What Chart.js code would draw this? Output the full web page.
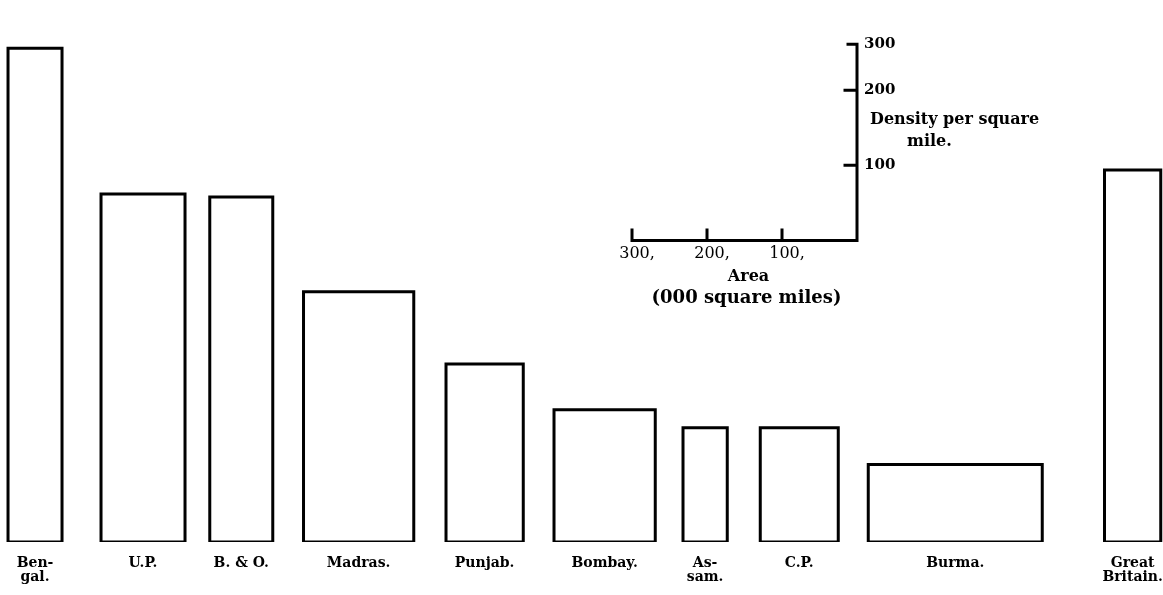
<!DOCTYPE html>
<html>
<head>
<meta charset="utf-8">
<script src="https://cdn.jsdelivr.net/npm/chart.js@4.4.1/dist/chart.umd.min.js"></script>
<style>
  html, body { margin: 0; padding: 0; background: #fff; }
  #wrap { width: 1163px; height: 595px; position: relative; }
</style>
</head>
<body>
<div id="wrap"><canvas id="areaChart"></canvas></div>
<script>
// provinces, area in thousand square miles, density per square mile
const provinces = [['Ben-', 'gal.'], 'U.P.', 'B. & O.', 'Madras.', 'Punjab.', 'Bombay.', ['As-', 'sam.'], 'C.P.', 'Burma.', ['Great', 'Britain.']];
const areas = [72, 112, 84, 147, 103, 135, 59, 104, 232, 75];
const densities = [657, 463, 459, 333, 237, 176, 152, 152, 103, 495];

// key scale
const keyAreaTicks = [300, 200, 100];
const keyDensityTicks = [100, 200, 300];

// layout (in area units): space left before each block
const gapBefore = [10.7, 52, 33, 41, 43, 41, 37, 44, 40, 83];
const font = 'DejaVu Serif';

let pos = 0;
const blocks = areas.map((a, i) => {
    const x0 = pos + gapBefore[i];
    pos = x0 + a;
    return { x0: x0, x1: x0 + a, h: densities[i] };
});
const centers = blocks.map(b => (b.x0 + b.x1) / 2);

const datasets = blocks.map(b => ({
    data: [
        { x: b.x0, y: 0 }, { x: b.x0, y: b.h }, { x: b.x1, y: b.h },
        { x: b.x1, y: 0 }, { x: b.x0, y: 0 }
    ],
    showLine: true,
    borderColor: '#000',
    borderWidth: 3,
    borderJoinStyle: 'miter',
    pointRadius: 0,
    tension: 0,
    fill: false
}));

// small scale key drawn with the chart's own scales
const keyPlugin = {
    id: 'key',
    afterDatasetsDraw(chart) {
        const ctx = chart.ctx;
        const xs = chart.scales.x, ys = chart.scales.y;
        const ox = 1142.7, oy = 401.3;
        const px = v => xs.getPixelForValue(ox - v);
        const py = v => ys.getPixelForValue(oy + v);
        ctx.save();
        ctx.strokeStyle = '#000';
        ctx.lineWidth = 3;
        ctx.lineCap = 'square';
        ctx.beginPath();
        ctx.moveTo(px(300), py(14));
        ctx.lineTo(px(300), py(0));
        ctx.lineTo(px(0), py(0));
        ctx.lineTo(px(0), py(261));
        ctx.lineTo(px(12), py(261));
        keyAreaTicks.slice(1).forEach(v => {
            ctx.moveTo(px(v), py(0));
            ctx.lineTo(px(v), py(14));
        });
        keyDensityTicks.slice(0, 2).forEach(v => {
            ctx.moveTo(px(0), py(v));
            ctx.lineTo(px(16), py(v));
        });
        ctx.stroke();

        ctx.fillStyle = '#000';
        ctx.textBaseline = 'middle';
        ctx.textAlign = 'left';
        ctx.font = 'bold 15px "' + font + '"';
        keyDensityTicks.forEach(v => {
            const y = v === 300 ? py(261) : py(v);
            ctx.fillText(String(v), px(0) + 7, y);
        });
        ctx.font = 'bold 16px "' + font + '"';
        ctx.fillText('Density per square', px(0) + 13, py(0) - 121);
        ctx.fillText('mile.', px(0) + 50, py(0) - 99);

        ctx.textAlign = 'center';
        ctx.font = '16px "' + font + '"';
        keyAreaTicks.forEach(v => {
            ctx.fillText(v + ',', px(v) + 5, py(0) + 13);
        });
        ctx.font = 'bold 16px "' + font + '"';
        ctx.fillText('Area', px(150) + 4, py(0) + 36);
        ctx.font = 'bold 18px "' + font + '"';
        ctx.fillText('(000 square miles)', px(150) + 2, py(0) + 58);
        ctx.restore();
    }
};

new Chart(document.getElementById('areaChart'), {
    type: 'scatter',
    data: { datasets: datasets },
    options: {
        responsive: true,
        maintainAspectRatio: false,
        animation: false,
        layout: { padding: { left: 0, right: 0, top: 0, bottom: -3 } },
        plugins: {
            legend: { display: false },
            tooltip: { enabled: false }
        },
        scales: {
            x: {
                type: 'linear',
                min: 0,
                max: 1550.7,
                grid: { display: false, drawTicks: false },
                border: { display: false },
                afterBuildTicks(axis) {
                    axis.ticks = centers.map(v => ({ value: v }));
                },
                afterFit(axis) {
                    axis.paddingLeft = 0;
                    axis.paddingRight = 0;
                },
                ticks: {
                    autoSkip: false,
                    maxRotation: 0,
                    padding: 14,
                    color: '#000',
                    font: { family: font, weight: 'bold', size: 14, lineHeight: 1.0 },
                    callback: (value, index) => provinces[index]
                }
            },
            y: {
                display: false,
                min: 0,
                max: 721.3
            }
        }
    },
    plugins: [keyPlugin]
});
</script>
</body>
</html>
